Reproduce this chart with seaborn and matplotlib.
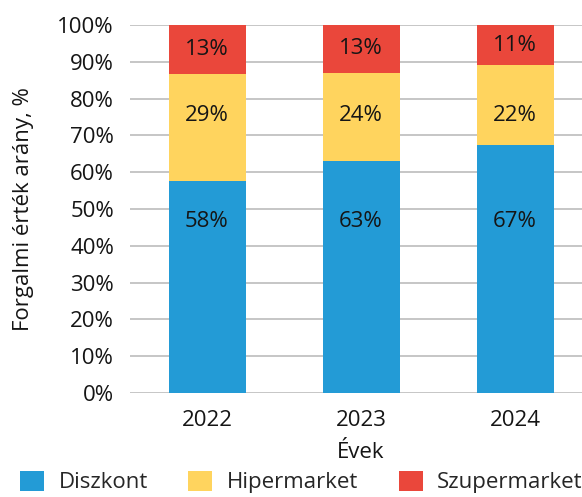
import matplotlib
matplotlib.use("Agg")
import matplotlib.pyplot as plt
import seaborn as sns
import pandas as pd
import numpy as np
from matplotlib.patches import Patch

years = ["2022", "2023", "2024"]
diszkont = [57.6, 63.1, 67.4]
hipermarket = [29.1, 23.9, 21.6]
szupermarket = [13.3, 13.0, 11.0]
series_names = ["Diszkont", "Hipermarket", "Szupermarket"]
colors = ["#239BD6", "#FFD45E", "#EA473B"]
yticks = [0, 10, 20, 30, 40, 50, 60, 70, 80, 90, 100]
# vertical placement of the value labels (data units) for Diszkont / Hipermarket
label_levels = [46.7, 75.5]

sns.set_theme(style="white")
plt.rcParams["font.family"] = ["Open Sans", "DejaVu Sans"]
TXT = "#151515"

fig = plt.figure(figsize=(5.82, 4.97), dpi=100)
ax = fig.add_axes([130 / 582, (497 - 393) / 497, 462 / 582, 368 / 497])

d = np.array(diszkont)
h = np.array(hipermarket)
s = np.array(szupermarket)
layers = [d + h + s, d + h, d]
layer_colors = [colors[2], colors[1], colors[0]]
for vals, c in zip(layers, layer_colors):
    df = pd.DataFrame({"year": years, "val": vals})
    sns.barplot(data=df, x="year", y="val", color=c, width=0.5,
                saturation=1, ax=ax, zorder=3, linewidth=0)

# value labels
for i in range(3):
    ys = [label_levels[0], label_levels[1], d[i] + h[i] + s[i] / 2]
    vals = [d[i], h[i], s[i]]
    for yv, v in zip(ys, vals):
        ax.text(i, yv, f"{round(v)}%", ha="center", va="center",
                fontsize=16, color=TXT, zorder=5)

ax.set_xlim(-0.5, 2.5)
ax.set_ylim(0, 100)
ax.set_yticks(yticks)
ax.set_yticklabels([f"{t}%" for t in yticks])
ax.yaxis.grid(True, color="#C6C6C6", linewidth=1.4, zorder=0)
ax.set_axisbelow(True)
for sp in ax.spines.values():
    sp.set_visible(False)
ax.tick_params(axis="y", length=0, pad=11.5, labelsize=16, colors=TXT)
ax.tick_params(axis="x", length=0, pad=12, labelsize=16, colors=TXT)
ax.set_xlabel("Évek", fontsize=16, color=TXT, labelpad=8)
ax.set_ylabel("Forgalmi érték arány, %", fontsize=16, color=TXT, labelpad=17)

handles = [Patch(facecolor=c, edgecolor="none") for c in colors]
fig.legend(handles, series_names, loc="center left",
           bbox_to_anchor=(20 / 582, 1 - 482 / 497),
           ncol=3, frameon=False, fontsize=16, handlelength=1.08,
           handleheight=1.05, handletextpad=0.65, columnspacing=1.82,
           borderpad=0, borderaxespad=0)

fig.savefig("out.png", dpi=100)
